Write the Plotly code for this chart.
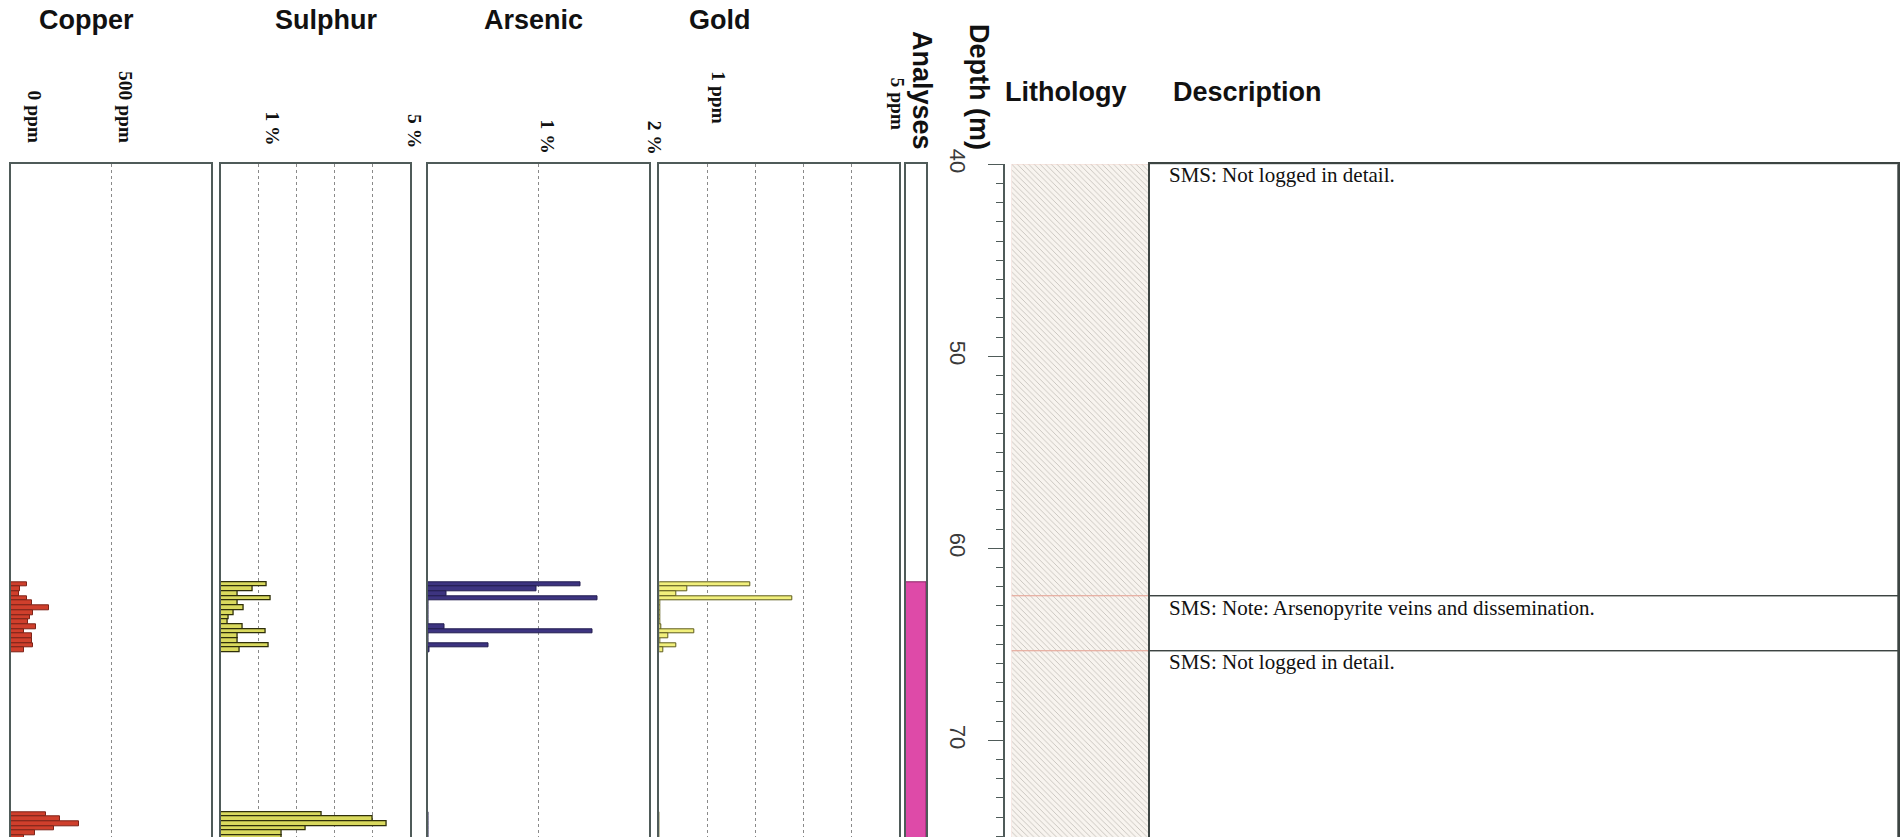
import plotly.graph_objects as go

# ---- drill-hole interval data (depths in metres) ----
sample_from = [61.75, 62.00, 62.24, 62.49, 62.73, 62.98, 63.22, 63.47, 63.71, 63.96,
               64.20, 64.45, 64.69, 64.94, 65.18,
               73.73, 73.98, 74.22, 74.47, 74.71, 74.96]
sample_to = [62.00, 62.24, 62.49, 62.73, 62.98, 63.22, 63.47, 63.71, 63.96, 64.20,
             64.45, 64.69, 64.94, 65.18, 65.43,
             73.98, 74.22, 74.47, 74.71, 74.96, 75.20]

copper_ppm = [78, 45, 42, 82, 107, 192, 112, 95, 87, 125, 67, 107, 103, 108, 65,
              173, 245, 340, 215, 120, 65]
sulphur_pct = [1.21, 0.84, 0.44, 1.32, 0.44, 0.60, 0.35, 0.21, 0.18, 0.57, 1.20, 0.44, 0.45, 1.28, 0.49,
               2.66, 4.01, 4.38, 2.25, 1.61, 1.61]
arsenic_pct = [1.38, 0.98, 0.17, 1.53, 0.01, 0.01, 0.01, 0.01, 0.01, 0.15, 1.49, 0.01, 0.01, 0.55, 0.02,
               0.01, 0.01, 0.01, 0.01, 0.01, 0.01]
gold_ppm = [1.90, 0.58, 0.35, 2.77, 0.02, 0.02, 0.02, 0.02, 0.02, 0.05, 0.72, 0.18, 0.03, 0.36, 0.08,
            0.01, 0.01, 0.01, 0.01, 0.01, 0.01]

analysed_from = [61.75]
analysed_to = [75.20]

unit_from = [40.00, 62.52, 65.36]
unit_to = [62.52, 65.36, 75.20]
unit_text = ["SMS: Not logged in detail.",
             "SMS: Note: Arsenopyrite veins and dissemination.",
             "SMS: Not logged in detail."]

depth_view = [75.04, 40.0]
depth_major = [40, 50, 60, 70]

# ---- page geometry helpers ----
W, H = 1901, 837
TOP_PX = 164.3


def px(x):
    return x / W


def py(y):
    return 1 - y / H


BORDER = "#4f5b59"
GRID = "#8a8a8a"
SERIF = "Liberation Serif, Times New Roman, serif"
SANS = "Liberation Sans, Arial, sans-serif"

centres = [(a + b) / 2 for a, b in zip(sample_from, sample_to)]
thick = [b - a for a, b in zip(sample_from, sample_to)]

fig = go.Figure()

# panels: (name, x-domain px, x range, grid values, values, fill, outline, outline width)
panels = [
    ("Copper", (11, 211), (0, 1000), [500], copper_ppm, "#cf3f2c", "#7d2318", 1),
    ("Sulphur", (220.7, 410), (0, 5), [1, 2, 3, 4], sulphur_pct, "#d9d95e", "#2f2f0a", 1.3),
    ("Arsenic", (427.5, 649.3), (0, 2), [1], arsenic_pct, "#3d3480", "#221c4f", 1),
    ("Gold", (659.3, 899), (0, 5), [1, 2, 3, 4], gold_ppm, "#f2f07c", "#5d5b1c", 1),
]

layout_axes = {}
for i, (name, dom, rng, grid, vals, fill, edge, ew) in enumerate(panels, start=1):
    xa, ya = f"x{i}", f"y{i}"
    fig.add_trace(go.Bar(
        x=vals, y=centres, width=thick, base=0, orientation="h",
        marker=dict(color=fill, line=dict(color=edge, width=ew)),
        xaxis=xa, yaxis=ya, name=name, hoverinfo="x+y"))
    layout_axes[f"xaxis{i}"] = dict(
        domain=[px(dom[0]), px(dom[1])], range=list(rng), anchor=ya, side="top",
        showline=True, linecolor=BORDER, linewidth=1.5, automargin=False,
        tickvals=grid, showticklabels=False, ticks="",
        showgrid=True, gridcolor=GRID, griddash="dot", gridwidth=1, zeroline=False)
    layout_axes[f"yaxis{i}"] = dict(
        domain=[0, py(TOP_PX)], range=depth_view, anchor=xa, automargin=False,
        showline=True, mirror=True, linecolor=BORDER, linewidth=1.5,
        showticklabels=False, ticks="", showgrid=False, zeroline=False)

# analysed interval strip
fig.add_trace(go.Bar(
    x=[1], y=[(analysed_from[0] + analysed_to[0]) / 2], width=[analysed_to[0] - analysed_from[0]],
    base=0, orientation="h", marker=dict(color="#de4aa8", line=dict(color="#8a2466", width=1)),
    xaxis="x5", yaxis="y5", name="Analyses"))
layout_axes["xaxis5"] = dict(domain=[px(905.5), px(926)], range=[0, 1], anchor="y5", side="top",
                             showline=True, linecolor=BORDER, linewidth=1.5, showticklabels=False,
                             ticks="", showgrid=False, zeroline=False, automargin=False)
layout_axes["yaxis5"] = dict(domain=[0, py(TOP_PX)], range=depth_view, anchor="x5",
                             showline=True, mirror=True, linecolor=BORDER, linewidth=1.5,
                             showticklabels=False, ticks="", showgrid=False, zeroline=False,
                             automargin=False)

# lithology column with patterned fill; its y axis carries the depth scale
u_centres = [(a + b) / 2 for a, b in zip(unit_from, unit_to)]
u_thick = [b - a for a, b in zip(unit_from, unit_to)]
fig.add_trace(go.Bar(
    x=[1] * len(u_centres), y=u_centres, width=u_thick, base=0, orientation="h",
    marker=dict(color="#f8f4ef", line=dict(color="#e6a89b", width=1),
                pattern=dict(shape="\\", fgcolor="#a9a39d", bgcolor="#f8f4ef",
                             size=4, solidity=0.2, fgopacity=0.7)),
    xaxis="x6", yaxis="y6", name="Lithology", hoverinfo="y"))
layout_axes["xaxis6"] = dict(domain=[px(1011.7), px(1149.5)], range=[0, 1], anchor="y6",
                             visible=False, automargin=False)
layout_axes["yaxis6"] = dict(
    domain=[0, py(TOP_PX)], range=depth_view, anchor="free", position=px(1004), side="left",
    automargin=False,
    showline=True, linecolor=BORDER, linewidth=1.5, showgrid=False, zeroline=False,
    tickmode="array", tickvals=depth_major, ticktext=[str(d) for d in depth_major],
    ticks="outside", ticklen=15, tickwidth=1.2, tickcolor=BORDER, tickangle=90,
    tickfont=dict(family=SANS, size=22, color="#3a3a3a"), ticklabelstandoff=12,
    minor=dict(dtick=1, tick0=40, ticks="outside", ticklen=7, tickwidth=1, tickcolor=BORDER))

# description column: intervals outlined, text at each top
fig.add_trace(go.Bar(
    x=[1] * len(u_centres), y=u_centres, width=u_thick, base=0, orientation="h",
    marker=dict(color="rgba(255,255,255,0)", line=dict(color="#3c4442", width=1.2)),
    xaxis="x7", yaxis="y7", name="Description", hoverinfo="skip"))
layout_axes["xaxis7"] = dict(domain=[px(1149.5), px(1898)], range=[0, 1], anchor="y7", side="top",
                             showline=True, linecolor="#3c4442", linewidth=1.5, showticklabels=False,
                             ticks="", showgrid=False, zeroline=False, automargin=False)
layout_axes["yaxis7"] = dict(domain=[0, py(TOP_PX)], range=depth_view, anchor="x7",
                             showline=True, mirror=True, linecolor="#3c4442", linewidth=1.5,
                             showticklabels=False, ticks="", showgrid=False, zeroline=False,
                             automargin=False)

annotations = []
for top, txt in zip(unit_from, unit_text):
    annotations.append(dict(
        x=0, xref="x7", y=top, yref="y7", xanchor="left", yanchor="top", xshift=17, yshift=3,
        text=txt, showarrow=False, font=dict(family=SERIF, size=21, color="#111")))

# column headings
heads = [("Copper", 86, 20), ("Sulphur", 326, 20), ("Arsenic", 533, 20), ("Gold", 720, 20),
         ("Lithology", 1065, 92), ("Description", 1247, 92)]
for txt, hx, hy in heads:
    annotations.append(dict(x=px(hx), y=py(hy), xref="paper", yref="paper",
                            xanchor="center", yanchor="middle", text=txt, showarrow=False,
                            font=dict(family=SANS, size=27, color="#111", weight="bold")))
for txt, hx, hy in [("Analyses", 922, 90), ("Depth (m)", 979, 87)]:
    annotations.append(dict(x=px(hx), y=py(hy), xref="paper", yref="paper",
                            xanchor="center", yanchor="middle", text=txt, showarrow=False,
                            textangle=90,
                            font=dict(family=SANS, size=27, color="#111", weight="bold")))

# scale labels above each assay column: (text, axis, value, x shift, bottom px)
scale_labels = [("0 ppm", "x1", 0, 23, 145), ("500 ppm", "x1", 500, 15, 145),
                ("1 %", "x2", 1, 14, 147), ("5 %", "x2", 5, 5, 150),
                ("1 %", "x3", 1, 9, 156), ("2 %", "x3", 2, 6, 157),
                ("1 ppm", "x4", 1, 11, 126), ("5 ppm", "x4", 5, -2, 132)]
for txt, xa, val, shift, bottom in scale_labels:
    annotations.append(dict(x=val, xref=xa, y=py(bottom), yref="paper", xshift=shift,
                            xanchor="center", yanchor="bottom", text=txt, showarrow=False,
                            textangle=90,
                            font=dict(family=SERIF, size=19.5, color="#111", weight="bold")))

fig.update_layout(
    width=W, height=H, margin=dict(l=0, r=0, t=0, b=0, autoexpand=False),
    paper_bgcolor="white", plot_bgcolor="rgba(0,0,0,0)",
    showlegend=False, bargap=0, annotations=annotations, **layout_axes)

fig.write_html("out.html")
